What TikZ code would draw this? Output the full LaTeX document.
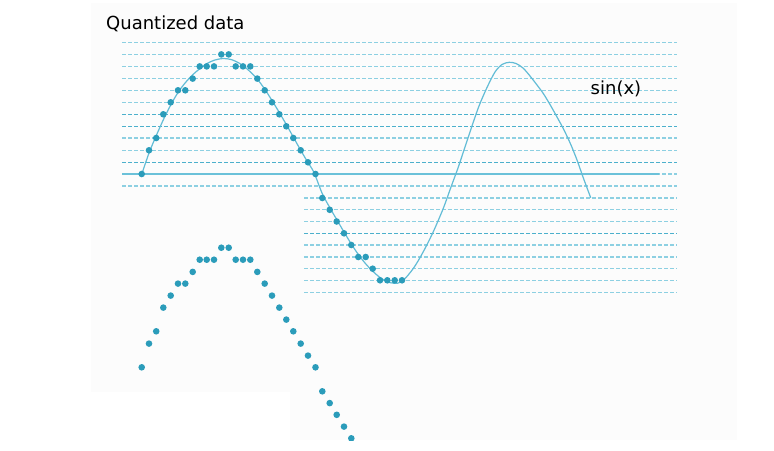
\documentclass[tikz,border=0pt]{standalone}
\usepackage{fontspec}
\setmainfont{DejaVu Sans}
\definecolor{dotc}{HTML}{2B9CBA}
\definecolor{curvec}{HTML}{62BCD6}
\definecolor{qlight}{HTML}{8DD0E2}
\definecolor{qdark}{HTML}{4CB0CC}
\definecolor{axisc}{HTML}{6BC1D9}
\definecolor{bgc}{RGB}{252,252,252}
\begin{document}
\begin{tikzpicture}[x=1pt,y=-1pt,
  qline/.style={draw=qlight,line width=1.3pt,dash pattern=on 4pt off 2pt},
  qlinedark/.style={qline,draw=qdark},
  axisline/.style={draw=axisc,line width=1.5pt},
  dotm/.style={fill=dotc},
  curve/.style={draw=curvec,line width=1.2pt},
  lbl/.style={font=\fontsize{18}{20}\selectfont,inner sep=0pt,text=black}]
\useasboundingbox (0,0) rectangle (774,450);
% faint background panels
\fill[bgc] (91,3) rectangle (737,392);
\fill[bgc] (290,392) rectangle (737,440);
% quantization levels (upper, full width)
\foreach \yy in {42.7,54.4,66.4,78.6,90.3,102.3,138,150.3,186}
  \draw[qline] (122,\yy) -- (677,\yy);
\foreach \yy in {114.3,126.3,162.3}
  \draw[qlinedark] (122,\yy) -- (677,\yy);
% quantization levels (lower, right part)
\foreach \yy in {198,209.8,221.5,245,257,268.7,280.3,292.3}
  \draw[qline] (304,\yy) -- (677,\yy);
\draw[qlinedark] (304,233.3) -- (677,233.3);
% zero line
\draw[qline] (122,174) -- (677,174);
\draw[axisline] (122,174) -- (659,174);
% sine curve
\draw[curve] plot[smooth] coordinates {
 (141.7,174.5) (149,153) (156.3,135.5) (163.7,119) (171,104.5) (178.3,92)
 (185.5,82.5) (192.5,75) (200,68.5) (207,63.5) (215,60) (223,58.5)
 (231,59.5) (239,63) (246,68) (252,73.5) (258,80) (265,89.5) (272,100.5)
 (279,112) (286,124) (293,136.5) (300,149) (307,161) (314,172.5)
 (322,193) (330,208) (337,220) (344,232) (351,243.5) (358,254) (365,263)
 (372,270.5) (380,277.5) (387,281.5) (394,283.3)
 (402,281.5) (413.3,268.5) (423.3,251.7) (433.3,231.7) (443.3,208.3)
 (451,187) (458,168) (465,147) (472,126) (479,106) (487,87.5) (495,72)
 (502,64.5) (509.3,62.3) (516,63.5) (523,68) (530,76) (537,85) (543.3,93.5)
 (550,104.5) (557,117) (564,130) (571,145) (577,160) (583,177) (590.7,197.7)};
% quantized samples
\foreach \xx/\yy in {141.7/174,149/150.3,156.2/138,163.3/114.3,170.7/102.3,178/90.3,
  185.3/90.3,192.7/78.6,199.7/66.4,206.7/66.4,214/66.4,221.3/54.4,228.7/54.4,
  235.7/66.4,243/66.4,250.3/66.4,257.3/78.6,264.7/90.3,272/102.3,279.3/114.3,
  286.3/126.3,293.3/138,300.7/150.3,308/162.3,315.5/174,322.3/198,329.7/209.8,
  336.7/221.5,344/233.3,351.3/245,358.3/257,365.7/257,372.7/268.7,380/280.3,
  387.3/280.3,394.7/280.3,402/280.3}
  \fill[dotm] (\xx,\yy) circle (3.3pt);
% copy of the samples below, cut at the bottom edge
\begin{scope}
\clip (0,0) rectangle (774,440);
\foreach \xx/\yy in {141.7/174,149/150.3,156.2/138,163.3/114.3,170.7/102.3,178/90.3,
  185.3/90.3,192.7/78.6,199.7/66.4,206.7/66.4,214/66.4,221.3/54.4,228.7/54.4,
  235.7/66.4,243/66.4,250.3/66.4,257.3/78.6,264.7/90.3,272/102.3,279.3/114.3,
  286.3/126.3,293.3/138,300.7/150.3,308/162.3,315.5/174,322.3/198,329.7/209.8,
  336.7/221.5,344/233.3,351.3/245,358.3/257}
  \fill[dotm] (\xx,\yy+193.3) circle (3.3pt);
\end{scope}
% labels
\node[lbl,anchor=base west] (title) at (106,29.3) {Quantized data};
\node[lbl,anchor=base west] (sinlbl) at (590.5,94) {sin(x)};
\end{tikzpicture}
\end{document}
